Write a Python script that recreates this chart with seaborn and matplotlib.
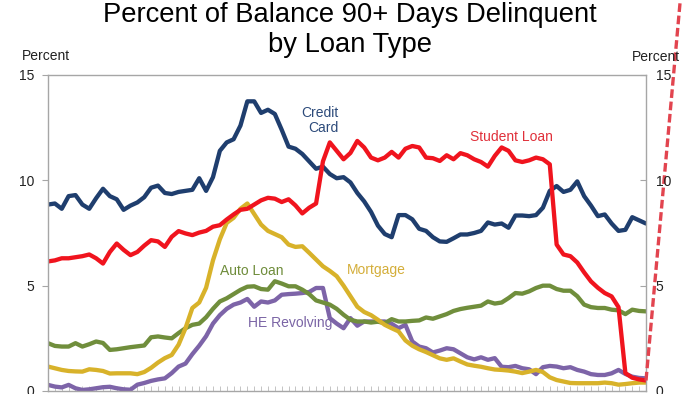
import numpy as np
import pandas as pd
import matplotlib
matplotlib.use("Agg")
import matplotlib.pyplot as plt
import seaborn as sns

# quarterly series, percent of balance 90+ days delinquent
credit_card = [8.85, 8.9, 8.65, 9.25, 9.3, 8.85, 8.65, 9.15, 9.6, 9.25, 9.1, 8.6, 8.8, 8.95, 9.2,
               9.65, 9.75, 9.4, 9.35, 9.45, 9.5, 9.55, 10.1, 9.5, 10.15, 11.4, 11.8, 11.95, 12.6,
               13.75, 13.75, 13.2, 13.35, 13.15, 12.4, 11.6, 11.5, 11.25, 10.9, 10.55, 10.65, 10.3,
               10.1, 10.15, 9.9, 9.4, 9.0, 8.5, 7.85, 7.45, 7.3, 8.35, 8.35, 8.15, 7.7, 7.6, 7.3,
               7.1, 7.08, 7.25, 7.43, 7.43, 7.5, 7.6, 8.0, 7.9, 7.95, 7.75, 8.33, 8.33, 8.3, 8.35,
               8.7, 9.5, 9.73, 9.45, 9.55, 9.95, 9.25, 8.8, 8.3, 8.38, 7.95, 7.6, 7.65, 8.25, 8.1, 7.95]
student_loan = [6.15, 6.2, 6.3, 6.3, 6.35, 6.4, 6.48, 6.3, 6.05, 6.6, 7.0, 6.7, 6.45, 6.6, 6.9,
                7.16, 7.1, 6.84, 7.32, 7.59, 7.48, 7.4, 7.52, 7.6, 7.8, 7.87, 8.14, 8.38, 8.6,
                8.65, 8.85, 9.05, 9.17, 9.13, 8.97, 9.1, 8.81, 8.43, 8.7, 8.9, 10.9, 11.8, 11.4,
                11.0, 11.3, 11.87, 11.56, 11.08, 10.95, 11.08, 11.35, 11.08, 11.5, 11.63, 11.56,
                11.08, 11.05, 10.92, 11.19, 11.0, 11.29, 11.19, 11.0, 10.87, 10.65, 11.16, 11.56,
                11.4, 10.95, 10.87, 10.95, 11.08, 11.0, 10.76, 6.95, 6.48, 6.4, 6.1, 5.63, 5.2,
                4.9, 4.65, 4.49, 3.98, 0.85, 0.63, 0.55, 0.5]
auto_loan = [2.27, 2.14, 2.11, 2.11, 2.27, 2.11, 2.22, 2.35, 2.28, 1.95, 1.98, 2.03, 2.08, 2.12,
             2.16, 2.55, 2.59, 2.54, 2.5, 2.75, 2.98, 3.14, 3.2, 3.5, 3.9, 4.25, 4.4, 4.6, 4.8,
             4.95, 4.97, 4.84, 4.81, 5.21, 5.1, 4.97, 4.97, 4.81, 4.6, 4.3, 4.2, 4.1, 3.9, 3.62,
             3.38, 3.3, 3.3, 3.25, 3.29, 3.22, 3.41, 3.3, 3.3, 3.33, 3.35, 3.49, 3.43, 3.54, 3.65,
             3.8, 3.89, 3.95, 4.0, 4.05, 4.25, 4.15, 4.2, 4.41, 4.65, 4.62, 4.73, 4.89, 5.0, 5.0,
             4.84, 4.76, 4.76, 4.5, 4.1, 3.98, 3.94, 3.94, 3.86, 3.83, 3.65, 3.86, 3.8, 3.78]
mortgage = [1.16, 1.08, 1.0, 0.95, 0.93, 0.92, 1.03, 1.0, 0.95, 0.83, 0.84, 0.84, 0.84, 0.8, 0.9,
            1.1, 1.35, 1.56, 1.71, 2.2, 2.98, 3.94, 4.2, 4.9, 6.2, 7.2, 7.98, 8.22, 8.65, 8.9,
            8.4, 7.9, 7.6, 7.45, 7.3, 6.95, 6.84, 6.87, 6.56, 6.24, 5.92, 5.7, 5.45, 5.0, 4.5,
            4.0, 3.75, 3.6, 3.38, 3.14, 2.98, 2.83, 2.4, 2.15, 1.98, 1.85, 1.7, 1.55, 1.48, 1.55,
            1.4, 1.26, 1.2, 1.15, 1.08, 1.02, 1.0, 0.97, 0.92, 0.85, 0.92, 1.0, 0.9, 0.65, 0.52,
            0.45, 0.38, 0.37, 0.37, 0.37, 0.37, 0.4, 0.37, 0.3, 0.33, 0.37, 0.4, 0.4]
he_revolving = [0.29, 0.21, 0.17, 0.29, 0.13, 0.05, 0.08, 0.13, 0.18, 0.2, 0.13, 0.08, 0.06, 0.3,
                0.38, 0.48, 0.55, 0.6, 0.85, 1.16, 1.3, 1.75, 2.15, 2.6, 3.2, 3.6, 3.9, 4.1, 4.2,
                4.37, 4.0, 4.25, 4.2, 4.3, 4.57, 4.6, 4.62, 4.65, 4.7, 4.89, 4.89, 3.46, 3.2,
                2.98, 3.46, 3.1, 3.3, 3.3, 3.3, 3.3, 3.19, 2.98, 3.14, 2.35, 2.11, 2.03, 1.83,
                1.92, 2.03, 1.98, 1.79, 1.6, 1.5, 1.6, 1.48, 1.56, 1.15, 1.13, 1.19, 1.08, 1.03,
                0.8, 1.13, 1.19, 1.16, 1.08, 1.13, 1.0, 0.92, 0.8, 0.76, 0.76, 0.84, 1.0, 0.81,
                0.68, 0.62, 0.6]
quarters = np.arange(len(credit_card))

# projected student loan jump past the last quarter
proj_quarters = [87, 92]
student_proj = [0.5, 18.6]

y_ticks = [0, 5, 10, 15]

sns.set_theme(style="white")
plt.rcParams['font.family'] = ['Liberation Sans', 'DejaVu Sans']

fig = plt.figure(figsize=(7, 3.94), dpi=100)
ax = fig.add_axes([48 / 700, 3 / 394, 598 / 700, 316 / 394])

series = [
    (he_revolving, '#7D64A8'),
    (auto_loan, '#708E3C'),
    (mortgage, '#D8B22A'),
    (credit_card, '#1F3E6E'),
    (student_loan, '#F0141E'),
]
for vals, col in series:
    sns.lineplot(x=quarters, y=vals, ax=ax, color=col, linewidth=3.1,
                 solid_joinstyle='round', solid_capstyle='round')

sns.lineplot(x=proj_quarters, y=student_proj, ax=ax, color='#E2444F', linewidth=2.4,
             dashes=False, linestyle=(0, (2.6, 1.1)), clip_on=False, zorder=5)

ax.set_xlim(0, 87)
ax.set_ylim(0, 15)
ax.set_yticks(y_ticks)
ax.set_xticks(quarters)
ax.set_xticklabels([])
ax.set_xlabel('')
ax.set_ylabel('')
ax.tick_params(axis='x', direction='in', length=3.5, color='#C4C4C4', width=0.7, bottom=True)
ax.tick_params(axis='y', direction='out', length=4, color='#A6A6A6', width=0.8, left=True,
               labelsize=10, pad=6, labelcolor='#222222')
for sp in ax.spines.values():
    sp.set_color('#A6A6A6')
    sp.set_linewidth(1.0)

ax2 = ax.twinx()
ax2.set_ylim(0, 15)
ax2.set_yticks(y_ticks)
ax2.tick_params(axis='y', direction='in', length=4, color='#A6A6A6', width=0.8, right=True,
                labelsize=10, pad=7, labelcolor='#222222')
for sp in ax2.spines.values():
    sp.set_visible(False)

# series labels
ax.text(42.2, 13.55, 'Credit\nCard', color='#2C4A7A', fontsize=10, ha='right', va='top',
        multialignment='right', linespacing=1.1)
ax.text(67.4, 12.05, 'Student Loan', color='#E0303A', fontsize=10, ha='center', va='center')
ax.text(29.6, 5.71, 'Auto Loan', color='#6E8C3A', fontsize=10, ha='center', va='center')
ax.text(47.8, 5.76, 'Mortgage', color='#D4AE3A', fontsize=10, ha='center', va='center')
ax.text(35.3, 3.24, 'HE Revolving', color='#7A64A5', fontsize=10, ha='center', va='center')

fig.text(0.5, 1 - 30 / 394, 'Percent of Balance 90+ Days Delinquent\nby Loan Type',
         ha='center', va='center', fontsize=19.7, linespacing=1.15, color='black')
fig.text(22 / 700, 1 - 56 / 394, 'Percent', ha='left', va='center', fontsize=10, color='#222222')
fig.text(632 / 700, 1 - 57 / 394, 'Percent', ha='left', va='center', fontsize=10, color='#222222')

fig.savefig('out.png', dpi=100)
